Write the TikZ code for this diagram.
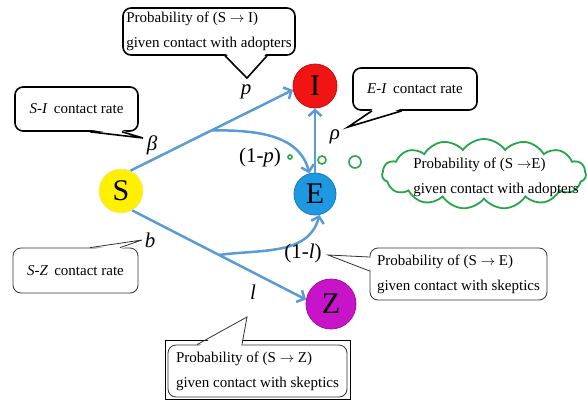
\documentclass[tikz,border=0pt]{standalone}
\usepackage{fontspec}
\setmainfont{Liberation Serif}
\usetikzlibrary{arrows.meta,calc,shapes.symbols}
\definecolor{flowblue}{RGB}{91,155,213}
\definecolor{sfill}{RGB}{255,240,0}
\definecolor{ifill}{RGB}{240,20,20}
\definecolor{efill}{RGB}{30,152,225}
\definecolor{zfill}{RGB}{200,20,200}
\definecolor{bubgreen}{RGB}{40,165,75}

\begin{document}
\begin{tikzpicture}[x=1pt, y=-1pt,
  state/.style={circle, minimum size=44pt, inner sep=0pt, line width=0.8pt, font=\fontsize{30}{30}\selectfont},
  flow/.style={draw=flowblue, line width=2.5pt, -{Straight Barb[length=6pt,width=13pt]}},
  rate/.style={font=\fontsize{21}{21}\selectfont},
  callout/.style={draw, fill=white, rounded corners=8pt, inner sep=0pt, align=left, font=\fontsize{15}{25}\selectfont},
  boldout/.style={callout, line width=1.6pt},
  thinout/.style={callout, line width=0.8pt, draw=black!80},
  bubble/.style={circle, draw=bubgreen, line width=1.6pt, fill=white, inner sep=0pt}
]
\useasboundingbox (0,0) rectangle (587,400);

% States
\node[state, fill=sfill, draw=yellow!50!orange!40] (S) at (121,191) {S};
\node[state, fill=ifill, draw=ifill!80!black] (I) at (315,86) {I};
\node[state, fill=efill, draw=efill!80!black, minimum size=42pt] (E) at (315,194) {E};
\node[state, fill=zfill, draw=zfill!80!black, minimum size=50pt] (Z) at (331,304) {Z};

% Branch points
\coordinate (bp1) at ($(S.65)!0.5!(I.190)$);
\coordinate (bp2) at ($(S.-60)!0.5!(Z.170)$);

% Flows
\draw[flow] (S.65) -- (I.190);
\draw[flow] (bp1) to[out=0, in=105] (E.105);
\draw[flow] (S.-60) -- (Z.170);
\draw[flow] (bp2) to[out=8, in=-105] (E.-78);
\draw[flow] (E) -- (I);

% Rates
\node[rate] (lbeta) at (152,145) {\textit{β}};
\node[rate] (lp) at (246,92) {\textit{p}};
\node[rate] (lb) at (150,240) {\textit{b}};
\node[rate] (lrho) at (335,137) {\textit{ρ}};
\node[rate] (l1p) at (260,157) {(1-\textit{p})};
\node[rate] (l1l) at (303,253) {(1-\textit{l})};
\node[rate] (ll) at (253,292) {\textit{l}};

% Callout: S-I contact rate
\node[boldout, minimum width=123pt, minimum height=44pt] (bxSI) at (76.5,109) {\textit{S-I}\, contact rate};
\coordinate (tSI) at (143,138);
\fill[white] ($(bxSI.south)+(14.5,-2)$) -- (tSI) -- ($(bxSI.south)+(44.5,-2)$) -- cycle;
\draw[line width=1.6pt] ($(bxSI.south)+(13.5,0)$) -- (tSI) -- ($(bxSI.south)+(45.5,0)$);

% Callout: S-Z contact rate
\node[thinout, minimum width=125pt, minimum height=45pt] (bxSZ) at (75.5,270.5) {\textit{S-Z}\, contact rate};
\coordinate (tSZ) at (142,240);
\fill[white] ($(bxSZ.north)+(15.5,2)$) -- (tSZ) -- ($(bxSZ.north)+(43.5,2)$) -- cycle;
\draw[line width=0.8pt, black!80] ($(bxSZ.north)+(14.5,0)$) -- (tSZ) -- ($(bxSZ.north)+(44.5,0)$);

% Callout: S to I
\node[boldout, minimum width=172pt, minimum height=47pt] (bxPI) at (209,31.5) {Probability of (S $\rightarrow$ I)\\given contact with adopters};
\coordinate (tPI) at (247,78);
\fill[white] ($(bxPI.south)+(17,-2)$) -- (tPI) -- ($(bxPI.south)+(57,-2)$) -- cycle;
\draw[line width=1.6pt] ($(bxPI.south)+(16,0)$) -- (tPI) -- ($(bxPI.south)+(58,0)$);

% Callout: E-I contact rate
\node[boldout, minimum width=124pt, minimum height=42pt] (bxEI) at (415,89) {\textit{E-I}\, contact rate};
\coordinate (tEI) at (348,127);
\fill[white] ($(bxEI.south)+(-42,-2)$) -- (tEI) -- ($(bxEI.south)+(-14,-2)$) -- cycle;
\draw[line width=1.6pt] ($(bxEI.south)+(-43,0)$) -- (tEI) -- ($(bxEI.south)+(-13,0)$);

% Callout: S to E, skeptics
\node[thinout, minimum width=177pt, minimum height=52pt] (bxSE) at (458.5,274) {Probability of (S $\rightarrow$ E)\\given contact with skeptics};
\coordinate (tSE) at (328,255);
\fill[white] ($(bxSE.west)+(2,-16)$) -- (tSE) -- ($(bxSE.west)+(2,-4)$) -- cycle;
\draw[line width=0.8pt, black!80] ($(bxSE.west)+(0,-17)$) -- (tSE) -- ($(bxSE.west)+(0,-3)$);

% Callout: S to Z, skeptics
\node[draw, line width=0.8pt, minimum width=185pt, minimum height=59pt] (frPZ) at (257.5,369.5) {};
\node[thinout, minimum width=179pt, minimum height=52pt] (bxPZ) at (257.5,371) {Probability of (S $\rightarrow$ Z)\\given contact with skeptics};
\coordinate (tPZ) at (247,317);
\fill[white] ($(bxPZ.north)+(-59.5,2)$) -- (tPZ) -- ($(bxPZ.north)+(-16.5,2)$) -- cycle;
\draw[line width=0.8pt, black!80] ($(bxPZ.north)+(-60.5,0)$) -- (tPZ) -- ($(bxPZ.north)+(-15.5,0)$);

% Thought bubble: S to E, adopters
\node[bubble, minimum size=4pt] (d1) at (290,157) {};
\node[bubble, minimum size=8pt] (d2) at (322,160) {};
\node[bubble, minimum size=12pt] (d3) at (355,162) {};
\node[cloud, cloud puffs=15, cloud puff arc=110, cloud ignores aspect, draw=bubgreen, line width=1.8pt, fill=white, minimum width=204pt, minimum height=70pt] (cld) at (484,174) {};
\node[font=\fontsize{15}{25}\selectfont, align=left] (txSE) at (496,177) {Probability of (S $\rightarrow$E)\\given contact with adopters};

\end{tikzpicture}
\end{document}
